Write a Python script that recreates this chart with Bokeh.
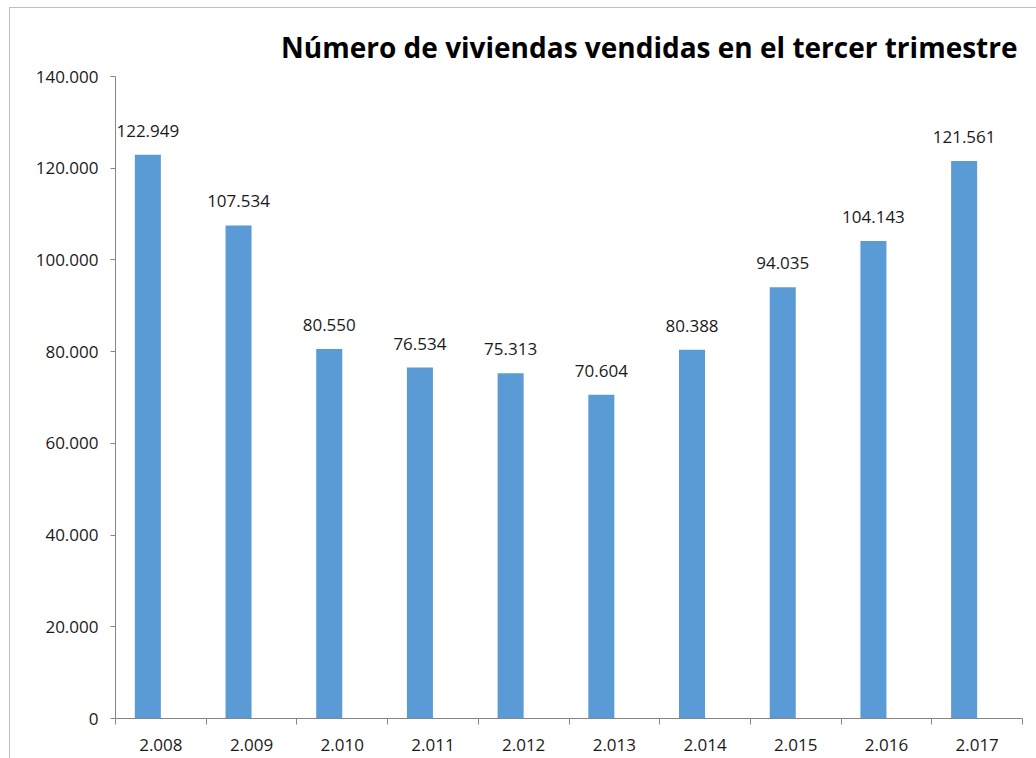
from bokeh.plotting import figure
from bokeh.models import ColumnDataSource, FixedTicker, Range1d, Title, LabelSet
from bokeh.core.properties import value
from bokeh.transform import dodge
from bokeh.embed import file_html
from bokeh.resources import INLINE

title_text = "Número de viviendas vendidas en el tercer trimestre"
years = ["2.008", "2.009", "2.010", "2.011", "2.012", "2.013", "2.014", "2.015", "2.016", "2.017"]
sales = [122949, 107534, 80550, 76534, 75313, 70604, 80388, 94035, 104143, 121561]
y_ticks = [0, 20000, 40000, 60000, 80000, 100000, 120000, 140000]
y_tick_labels = ["0", "20.000", "40.000", "60.000", "80.000", "100.000", "120.000", "140.000"]

FONT = "Open Sans"
AXIS_GREY = "#868686"
TEXT = "#1a1a1a"
BAR_W = 0.287
SHIFT = -BAR_W / 2  # bars sit left of the category centre (Excel cluster slot)

xpos = [i + 0.5 for i in range(len(years))]
labels = [f"{v:,}".replace(",", ".") for v in sales]
src = ColumnDataSource(dict(x=xpos, y=sales, lab=labels))

p = figure(width=1027, height=751, output_backend="svg", toolbar_location=None,
           x_range=Range1d(0, len(years)), y_range=Range1d(0, 140000),
           min_border_left=105, min_border_right=15, min_border_top=68, min_border_bottom=41)
p.margin = (7, 0, 0, 9)
p.styles = {"border-left": "1px solid #BFBFBF", "border-top": "1px solid #BFBFBF"}
p.outline_line_color = None
p.grid.visible = False
p.background_fill_color = "white"
p.border_fill_color = "white"

p.vbar(x=dodge("x", SHIFT, range=p.x_range), top="y", width=BAR_W, source=src,
       fill_color="#5B9BD5", line_color=None)

p.add_layout(LabelSet(x=dodge("x", SHIFT, range=p.x_range), y="y", text="lab", source=src,
                      text_align="center", text_baseline="alphabetic", y_offset=18,
                      text_font=value(FONT), text_font_size=value("17px"), text_color=TEXT))

# x axis: labels at category centers, tick marks at category boundaries
xa = p.xaxis[0]
xa.ticker = FixedTicker(ticks=xpos, minor_ticks=list(range(len(years) + 1)))
xa.major_label_overrides = {x: y for x, y in zip(xpos, years)}
xa.major_tick_out = 0
xa.major_tick_in = 0
xa.minor_tick_out = 6
xa.minor_tick_in = 0
xa.minor_tick_line_color = AXIS_GREY
xa.axis_line_color = AXIS_GREY
xa.major_label_standoff = 14
xa.major_label_text_font = FONT
xa.major_label_text_font_size = "17px"
xa.major_label_text_color = TEXT

ya = p.yaxis[0]
ya.ticker = FixedTicker(ticks=y_ticks)
ya.major_label_overrides = {t: l for t, l in zip(y_ticks, y_tick_labels)}
ya.minor_tick_line_color = None
ya.major_tick_out = 5
ya.major_tick_in = 0
ya.major_tick_line_color = AXIS_GREY
ya.axis_line_color = AXIS_GREY
ya.major_label_standoff = 12
ya.major_label_text_font = FONT
ya.major_label_text_font_size = "17px"
ya.major_label_text_color = TEXT

p.title = Title(text=title_text, align="right", text_font=FONT, text_font_size="28px",
                text_font_style="bold", text_color="#000000", offset=5, standoff=22)

open("out.html", "w").write(file_html(p, INLINE))
